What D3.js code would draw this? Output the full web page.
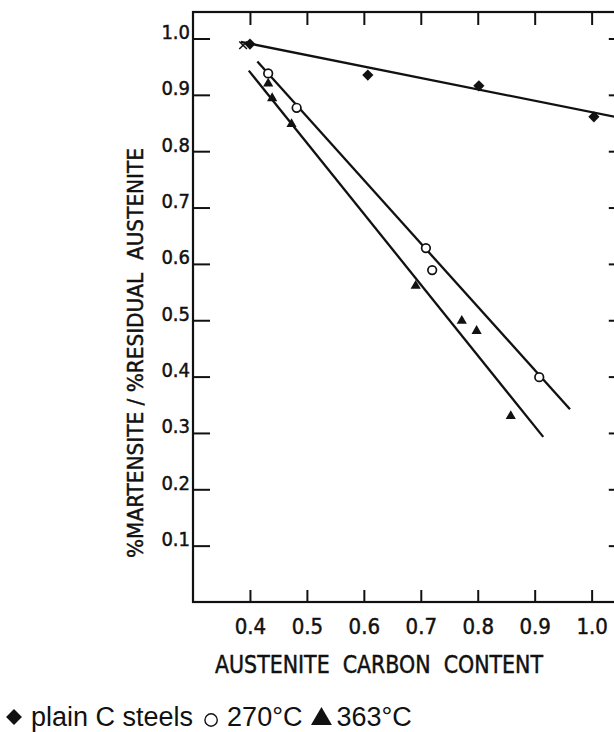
<!DOCTYPE html>
<html>
<head>
<meta charset="utf-8">
<script src="https://cdn.jsdelivr.net/npm/d3@7"></script>
<style>
  html, body { margin: 0; padding: 0; background: #fff; }
  svg { display: block; }
  .lab { font-family: "DejaVu Sans Condensed", "Liberation Sans Narrow", "DejaVu Sans", sans-serif; font-stretch: condensed; fill: #111; stroke: #111; stroke-width: 0.45px; }
  .leg { font-family: "Liberation Sans", Arial, sans-serif; fill: #111; }
</style>
</head>
<body>
<svg id="chart" width="614" height="732"></svg>
<script>
// ---- data ----
const xTicks = [0.4, 0.5, 0.6, 0.7, 0.8, 0.9, 1.0];
const yTicks = [0.1, 0.2, 0.3, 0.4, 0.5, 0.6, 0.7, 0.8, 0.9, 1.0];

const plainCX = [0.400, 0.607, 0.802, 1.004];
const plainCY = [0.990, 0.935, 0.916, 0.861];

const c270X = [0.432, 0.482, 0.709, 0.720, 0.908];
const c270Y = [0.938, 0.877, 0.628, 0.589, 0.399];

const c363X = [0.432, 0.439, 0.473, 0.691, 0.772, 0.798, 0.858];
const c363Y = [0.920, 0.894, 0.848, 0.561, 0.499, 0.481, 0.330];

const crossX = [0.388];
const crossY = [0.988];

// fitted lines (end points)
const linePlainX = [0.384, 1.06];
const linePlainY = [0.994, 0.857];
const line270X = [0.413, 0.962];
const line270Y = [0.959, 0.342];
const line363X = [0.398, 0.915];
const line363Y = [0.943, 0.293];

const xTitle = "AUSTENITE  CARBON  CONTENT";
const yTitle = "%MARTENSITE / %RESIDUAL  AUSTENITE";
const legendItems = [
  { sym: "diamond", label: "plain C steels" },
  { sym: "circle", label: "270°C" },
  { sym: "triangle", label: "363°C" }
];

// ---- layout ----
const svg = d3.select("#chart");
const L = 193, R = 625.8, T = 12, B = 602;
const x = d3.scaleLinear().domain([0.3, 1.06]).range([L, R]);
const y = d3.scaleLinear().domain([0, 1.047]).range([B, T]);
const ink = "#111";

// frame
svg.append("rect").attr("x", L).attr("y", T).attr("width", R - L).attr("height", B - T)
  .attr("fill", "none").attr("stroke", ink).attr("stroke-width", 2.2);

// axes
const fmt = d3.format(".1f");
const gl = svg.append("g").attr("transform", `translate(${L},0)`)
  .call(d3.axisLeft(y).tickValues(yTicks).tickSize(-17).tickPadding(3).tickFormat(fmt));
gl.selectAll("text").attr("class", "lab").attr("dy", "0").style("font-size", "20px");

const gr = svg.append("g").attr("transform", `translate(${R},0)`)
  .call(d3.axisLeft(y).tickValues(yTicks).tickSize(17).tickFormat(""));

const gb = svg.append("g").attr("transform", `translate(0,${B})`)
  .call(d3.axisBottom(x).tickValues(xTicks).tickSize(-12).tickPadding(16).tickFormat(fmt));
gb.selectAll("text").attr("class", "lab").style("font-size", "22px");

const gt = svg.append("g").attr("transform", `translate(0,${T})`)
  .call(d3.axisTop(x).tickValues(xTicks).tickSize(-13).tickFormat(""));

[gl, gr, gb, gt].forEach(g => {
  g.select(".domain").remove();
  g.selectAll("line").attr("stroke", ink).attr("stroke-width", 2);
  g.selectAll("text").attr("fill", ink);
});

// titles
svg.append("text").attr("class", "lab")
  .attr("x", 379).attr("y", 673).attr("text-anchor", "middle")
  .attr("textLength", 328).attr("lengthAdjust", "spacingAndGlyphs")
  .style("font-size", "25px").style("white-space", "pre")
  .text(xTitle);

svg.append("text").attr("class", "lab")
  .attr("transform", "translate(143,353) rotate(-90)")
  .attr("text-anchor", "middle")
  .attr("textLength", 410).attr("lengthAdjust", "spacingAndGlyphs")
  .style("font-size", "22px").style("white-space", "pre")
  .text(yTitle);

// lines
const line = d3.line().x(d => x(d[0])).y(d => y(d[1]));
[[linePlainX, linePlainY], [line270X, line270Y], [line363X, line363Y]].forEach(([xs, ys]) => {
  svg.append("path").datum(xs.map((v, i) => [v, ys[i]]))
    .attr("d", line).attr("fill", "none").attr("stroke", ink).attr("stroke-width", 2.3);
});

// markers
const diamond = d3.symbol().type(d3.symbolDiamond2).size(80);
const tri = d3.symbol().type(d3.symbolTriangle).size(45);

svg.append("g").selectAll("path").data(plainCX.map((v, i) => [v, plainCY[i]])).join("path")
  .attr("d", diamond).attr("transform", d => `translate(${x(d[0])},${y(d[1])})`).attr("fill", ink);

svg.append("g").selectAll("circle").data(c270X.map((v, i) => [v, c270Y[i]])).join("circle")
  .attr("cx", d => x(d[0])).attr("cy", d => y(d[1])).attr("r", 4.3)
  .attr("fill", "#fff").attr("stroke", ink).attr("stroke-width", 1.7);

svg.append("g").selectAll("path").data(c363X.map((v, i) => [v, c363Y[i]])).join("path")
  .attr("d", tri).attr("transform", d => `translate(${x(d[0])},${y(d[1])})`).attr("fill", ink);

svg.append("g").selectAll("path").data(crossX.map((v, i) => [v, crossY[i]])).join("path")
  .attr("d", d3.symbol().type(d3.symbolX).size(40))
  .attr("transform", d => `translate(${x(d[0])},${y(d[1])})`)
  .attr("fill", "none").attr("stroke", ink).attr("stroke-width", 1.5);

// legend
const lg = svg.append("g").attr("transform", "translate(5,726)");
let cx = 0;
const symGen = {
  diamond: d3.symbol().type(d3.symbolDiamond2).size(160),
  circle: d3.symbol().type(d3.symbolCircle).size(120),
  triangle: d3.symbol().type(d3.symbolTriangle).size(190)
};
legendItems.forEach(it => {
  const s = lg.append("path").attr("d", symGen[it.sym]);
  if (it.sym === "diamond") s.attr("transform", `translate(${cx + 9},-9)`).attr("fill", ink);
  if (it.sym === "circle") s.attr("transform", `translate(${cx + 10},-6)`).attr("fill", "none").attr("stroke", ink).attr("stroke-width", 1.4);
  if (it.sym === "triangle") s.attr("transform", `translate(${cx + 11},-7)`).attr("fill", ink);
  const t = lg.append("text").attr("class", "leg").attr("x", cx + 26).attr("y", 0)
    .style("font-size", "27px").text(it.label);
  cx = cx + 26 + t.node().getComputedTextLength() + 8;
});
</script>
</body>
</html>
